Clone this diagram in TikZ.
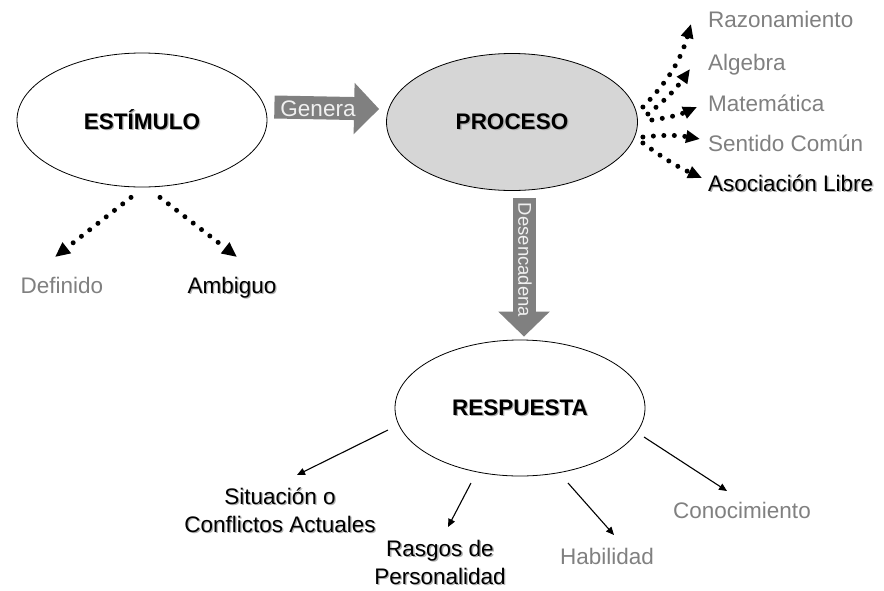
\documentclass[tikz,border=0pt]{standalone}
\usepackage{fontspec}
\setmainfont{Liberation Sans}
\usetikzlibrary{shapes.geometric,arrows.meta,calc}
\definecolor{txtgray}{HTML}{808080}
\definecolor{fatgray}{HTML}{808080}
\definecolor{procfill}{HTML}{D6D6D6}
\definecolor{shadowgray}{HTML}{B0B0B0}
\newcommand{\shd}[1]{\rlap{\hspace{1.3pt}\raisebox{-1.3pt}{\textcolor{shadowgray}{#1}}}#1}
\tikzset{
  bubble/.style={ellipse, draw=black, line width=0.8pt, inner sep=0pt, font=\fontsize{22.5}{27}\selectfont\bfseries},
  lbl/.style={font=\fontsize{22.5}{28}\selectfont, inner sep=0pt, align=center},
  dotarrow/.style={line width=5pt, line cap=round, dash pattern=on 0pt off 10.5pt, -{Triangle[length=15pt,width=13pt]}},
  thinarrow/.style={line width=1.1pt, -{Triangle[length=8pt,width=7pt]}},
  fatarrow/.style={fatgray, line width=23pt, -{Triangle[length=25pt,width=50pt]}}
}
\begin{document}
\begin{tikzpicture}[x=1pt,y=-1pt]
\useasboundingbox (0,0) rectangle (884,590);
% ellipses
\node[bubble, minimum width=250, minimum height=134] (estimulo) at (142,120) {\shd{ESTÍMULO}};
\node[bubble, fill=procfill, minimum width=251, minimum height=137] (proceso) at (512,122) {\shd{PROCESO}};
\node[bubble, minimum width=250, minimum height=136] (respuesta) at (520,408) {\shd{RESPUESTA}};
% labels
\node[lbl, text=txtgray, anchor=base] (definido) at (62,293) {Definido};
\node[lbl, anchor=base] (ambiguo) at (232,293) {\shd{Ambiguo}};
\node[lbl, text=txtgray, anchor=base west] (razon) at (708,27) {Razonamiento};
\node[lbl, text=txtgray, anchor=base west] (algebra) at (708,70) {Algebra};
\node[lbl, text=txtgray, anchor=base west] (matem) at (708,111) {Matemática};
\node[lbl, text=txtgray, anchor=base west] (sentido) at (708,151) {Sentido Común};
\node[lbl, anchor=base west] (asoc) at (708,191) {\shd{Asociación Libre}};
\node[lbl] (situacion) at (280,511) {\shd{Situación o}\\\shd{Conflictos Actuales}};
\node[lbl] (rasgos) at (440,563) {\shd{Rasgos de}\\\shd{Personalidad}};
\node[lbl, text=txtgray] (habilidad) at (607,556) {Habilidad};
\node[lbl, text=txtgray] (conoc) at (742,510) {Conocimiento};
% fat arrows
\draw[fatarrow] ($(estimulo.east)+(7,-13)$) coordinate (g1) -- ($(proceso.west)+(-7,-13)$) coordinate (g2);
\node[font=\fontsize{22.5}{27}\selectfont, text=white!94!black, inner sep=0pt] (genera) at (318,109) {Genera};
\draw[fatarrow] ($(proceso.south)+(12,7)$) coordinate (d1) -- ($(respuesta.north)+(4,-3)$) coordinate (d2);
\node[font=\fontsize{18.5}{22}\selectfont, text=white!94!black, inner sep=0pt, rotate=-90] (desenc) at (525,260) {Desencadena};
% dotted arrows from estimulo
\coordinate (e1) at (55,257);
\coordinate (e2) at (237,257);
\draw[dotarrow] ($(estimulo.south)+(-11,10)$) -- (e1);
\draw[dotarrow] ($(estimulo.south)+(18,10)$) -- (e2);
% dotted arrows from proceso
\coordinate (p1) at (691,24);
\coordinate (p2) at (690,69);
\coordinate (p3) at (697,107);
\coordinate (p4) at (700,139);
\coordinate (p5) at (702,178);
\draw[dotarrow, -{Triangle[length=14pt,width=12pt]}] ($(proceso.east)+(5,-15)$) to[bend right=14] (p1);
\draw[dotarrow, -{Triangle[length=14pt,width=12pt]}] ($(proceso.east)+(10,-8)$) to[bend right=8] (p2);
\draw[dotarrow, -{Triangle[length=14pt,width=12pt]}] ($(proceso.east)+(14,-2)$) to[bend right=8] (p3);
\draw[dotarrow, -{Triangle[length=14pt,width=12pt]}] ($(proceso.east)+(5,15)$) to[bend left=8] (p4);
\draw[dotarrow, -{Triangle[length=14pt,width=12pt]}] ($(proceso.east)+(5,21)$) to[bend right=6] (p5);
% thin arrows from respuesta
\coordinate (r1) at (297,475);
\coordinate (r2) at (448,527);
\coordinate (r3) at (614,535);
\coordinate (r4) at (727,491);
\draw[thinarrow] ($(respuesta.center)+(-132,22)$) -- (r1);
\draw[thinarrow] ($(respuesta.center)+(-49,75)$) -- (r2);
\draw[thinarrow] ($(respuesta.center)+(48,75)$) -- (r3);
\draw[thinarrow] ($(respuesta.center)+(124,29)$) -- (r4);
\end{tikzpicture}
\end{document}
